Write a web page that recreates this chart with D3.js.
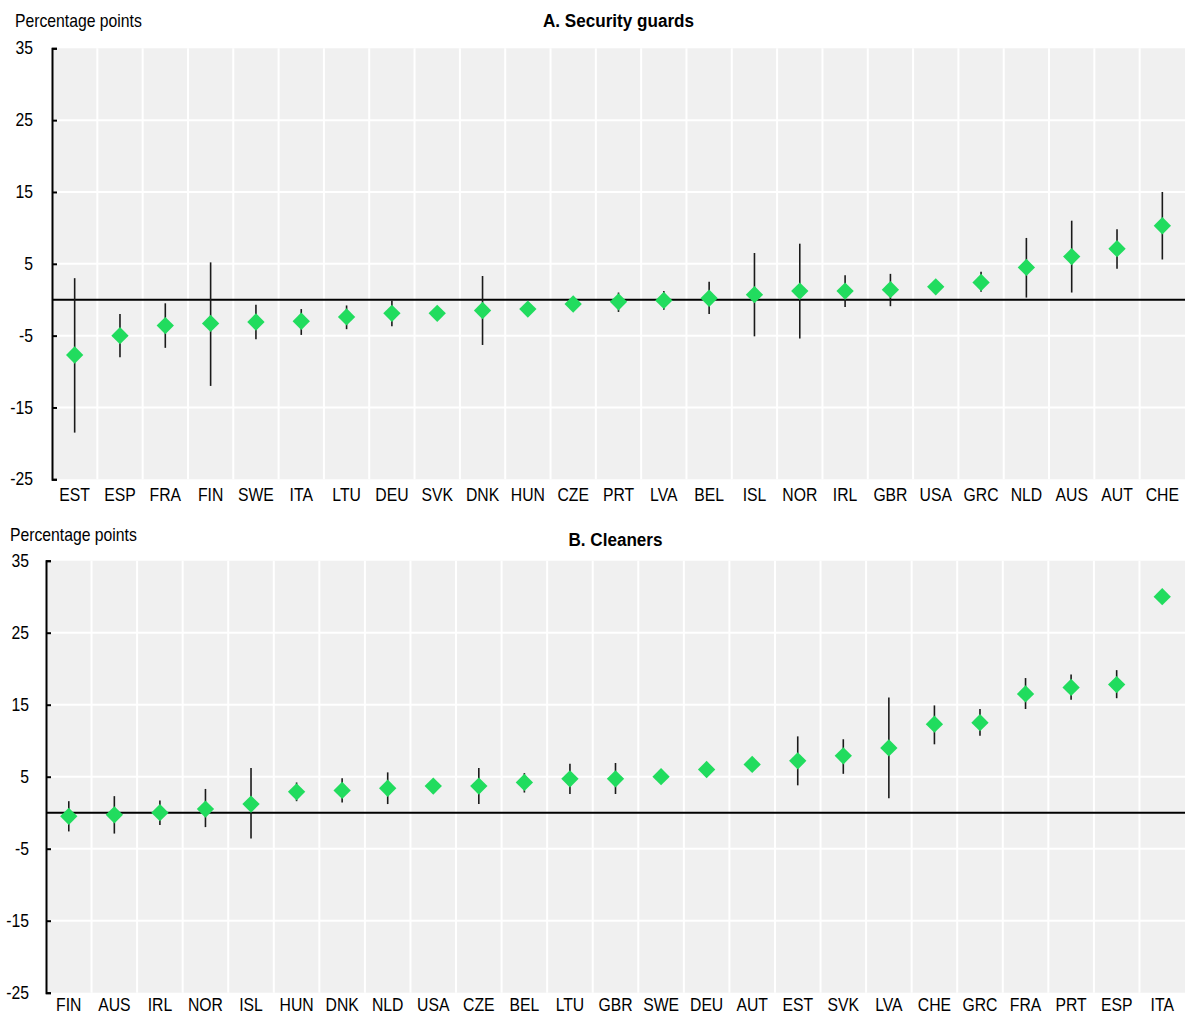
<!DOCTYPE html>
<html>
<head>
<meta charset="utf-8">
<script src="https://cdn.jsdelivr.net/npm/d3@7"></script>
<style>
  body { margin: 0; background: #fff; }
  svg { display: block; }
  text { font-family: "Liberation Sans", Arial, sans-serif; fill: #000; }
</style>
</head>
<body>
<div id="chart"></div>
<script>
// Panel A: security guards (percentage-point gap, with confidence interval)
const guardCountries = ["EST","ESP","FRA","FIN","SWE","ITA","LTU","DEU","SVK","DNK","HUN","CZE","PRT","LVA","BEL","ISL","NOR","IRL","GBR","USA","GRC","NLD","AUS","AUT","CHE"];
const guardValues = [-7.7,-5.0,-3.6,-3.3,-3.1,-3.0,-2.4,-1.9,-1.9,-1.5,-1.3,-0.6,-0.3,-0.1,0.2,0.7,1.2,1.2,1.4,1.8,2.4,4.5,6.0,7.1,10.3];
const guardLow  = [-18.5,-8.0,-6.7,-12.0,-5.5,-4.9,-4.1,-3.7,null,-6.3,null,null,-1.7,-1.4,-2.0,-5.1,-5.4,-1.0,-0.9,null,1.1,0.3,1.0,4.3,5.6];
const guardHigh = [3.0,-2.0,-0.5,5.2,-0.7,-1.3,-0.8,-0.1,null,3.3,null,null,1.0,1.2,2.5,6.5,7.8,3.4,3.6,null,3.9,8.6,11.0,9.8,15.0];

// Panel B: cleaners
const cleanerCountries = ["FIN","AUS","IRL","NOR","ISL","HUN","DNK","NLD","USA","CZE","BEL","LTU","GBR","SWE","DEU","AUT","EST","SVK","LVA","CHE","GRC","FRA","PRT","ESP","ITA"];
const cleanerValues = [-0.5,-0.3,0.0,0.5,1.2,2.9,3.1,3.4,3.7,3.7,4.2,4.7,4.7,5.0,6.0,6.7,7.2,7.9,9.0,12.3,12.5,16.5,17.4,17.8,30.0];
const cleanerLow  = [-2.6,-2.9,-1.7,-2.0,-3.6,1.6,1.4,1.2,null,1.2,2.8,2.6,2.6,null,null,null,3.8,5.4,2.0,9.5,10.7,14.4,15.7,15.9,null];
const cleanerHigh = [1.6,2.3,1.7,3.3,6.2,4.2,4.8,5.6,null,6.2,5.5,6.8,6.9,null,null,null,10.6,10.2,16.0,14.9,14.4,18.7,19.2,19.8,null];

const yTicks = [35, 25, 15, 5, -5, -15, -25];
const yLabel = "Percentage points";

const W = 1185, H = 1016;
const SX = 0.9; // horizontal text compression
const markColor = "#21dc5e";

const svg = d3.select("#chart").append("svg")
  .attr("width", W).attr("height", H);

function squeezeText(sel) {
  sel.each(function () {
    const t = d3.select(this);
    const x = +t.attr("x") || 0;
    t.attr("x", x / SX).attr("transform", `scale(${SX},1)`);
  });
}

function label(g, x, y, txt, opts = {}) {
  g.append("text")
    .attr("transform", `translate(${x},${y}) scale(${SX},1)`)
    .attr("text-anchor", opts.anchor || "start")
    .style("font-size", (opts.size || 17.5) + "px")
    .style("font-weight", opts.bold ? "bold" : "normal")
    .text(txt);
}

function drawPanel(cfg) {
  const g = svg.append("g");
  const x = d3.scaleBand().domain(cfg.cats).range([cfg.left, W]);
  const y = d3.scaleLinear().domain([-25, 35]).range([cfg.bottom, cfg.top]);

  // plot background
  g.append("rect")
    .attr("x", cfg.left).attr("y", y(35))
    .attr("width", W - cfg.left).attr("height", y(-25) - y(35))
    .attr("fill", "#f0f0f0");

  // white grid
  g.append("g").selectAll("line.h")
    .data(yTicks.filter(v => v !== 35 && v !== -25))
    .join("line")
    .attr("x1", cfg.left).attr("x2", W)
    .attr("y1", d => y(d)).attr("y2", d => y(d))
    .attr("stroke", "#fff").attr("stroke-width", 2);
  g.append("g").selectAll("line.v")
    .data(cfg.cats.slice(1))
    .join("line")
    .attr("x1", d => x(d)).attr("x2", d => x(d))
    .attr("y1", y(35)).attr("y2", y(-25))
    .attr("stroke", "#fff").attr("stroke-width", 2);

  // zero line
  g.append("line")
    .attr("x1", cfg.left).attr("x2", W)
    .attr("y1", y(0)).attr("y2", y(0))
    .attr("stroke", "#000").attr("stroke-width", 2);

  // y axis
  const ya = g.append("g")
    .attr("transform", `translate(${cfg.left},0)`)
    .call(d3.axisLeft(y).tickValues(yTicks).tickSize(-5).tickPadding(cfg.tickPad).tickFormat(d => String(d)));
  ya.select(".domain").attr("stroke", "#000").attr("stroke-width", 2);
  ya.selectAll(".tick line").attr("stroke", "#000").attr("stroke-width", 2);
  ya.selectAll(".tick text").style("font-size", "17.5px").style("font-family", '"Liberation Sans", Arial, sans-serif').attr("fill", "#000").call(squeezeText);

  // x axis labels
  const xa = g.append("g")
    .attr("transform", `translate(0,${y(-25)})`)
    .call(d3.axisBottom(x).tickSize(0).tickPadding(cfg.xPad));
  xa.select(".domain").remove();
  xa.selectAll(".tick text").style("font-size", "17.5px").style("font-family", '"Liberation Sans", Arial, sans-serif').attr("fill", "#000").call(squeezeText);

  // confidence intervals
  const idx = d3.range(cfg.cats.length).filter(i => cfg.low[i] != null);
  g.append("g").selectAll("line")
    .data(idx)
    .join("line")
    .attr("x1", i => x(cfg.cats[i]) + x.bandwidth() / 2)
    .attr("x2", i => x(cfg.cats[i]) + x.bandwidth() / 2)
    .attr("y1", i => y(cfg.low[i]))
    .attr("y2", i => y(cfg.high[i]))
    .attr("stroke", "#1a1a1a").attr("stroke-width", 1.6);

  // point estimates
  const diamond = d3.symbol().type(d3.symbolSquare).size(150);
  g.append("g").selectAll("path")
    .data(cfg.vals)
    .join("path")
    .attr("d", diamond)
    .attr("transform", (d, i) => `translate(${x(cfg.cats[i]) + x.bandwidth() / 2},${y(d)}) rotate(45)`)
    .attr("fill", markColor);

  // titles
  label(g, cfg.unitX, cfg.unitY, yLabel);
  label(g, (cfg.left + W) / 2, cfg.titleY, cfg.title, { anchor: "middle", bold: true, size: 19 });
}

drawPanel({
  cats: guardCountries, vals: guardValues, low: guardLow, high: guardHigh,
  left: 52, top: 48.3, bottom: 479.3, tickPad: 19, xPad: 9,
  title: "A. Security guards", titleY: 27, unitX: 15, unitY: 27
});

drawPanel({
  cats: cleanerCountries, vals: cleanerValues, low: cleanerLow, high: cleanerHigh,
  left: 46, top: 560.7, bottom: 992.7, tickPad: 17, xPad: 6,
  title: "B. Cleaners", titleY: 546, unitX: 10, unitY: 541
});
</script>
</body>
</html>
